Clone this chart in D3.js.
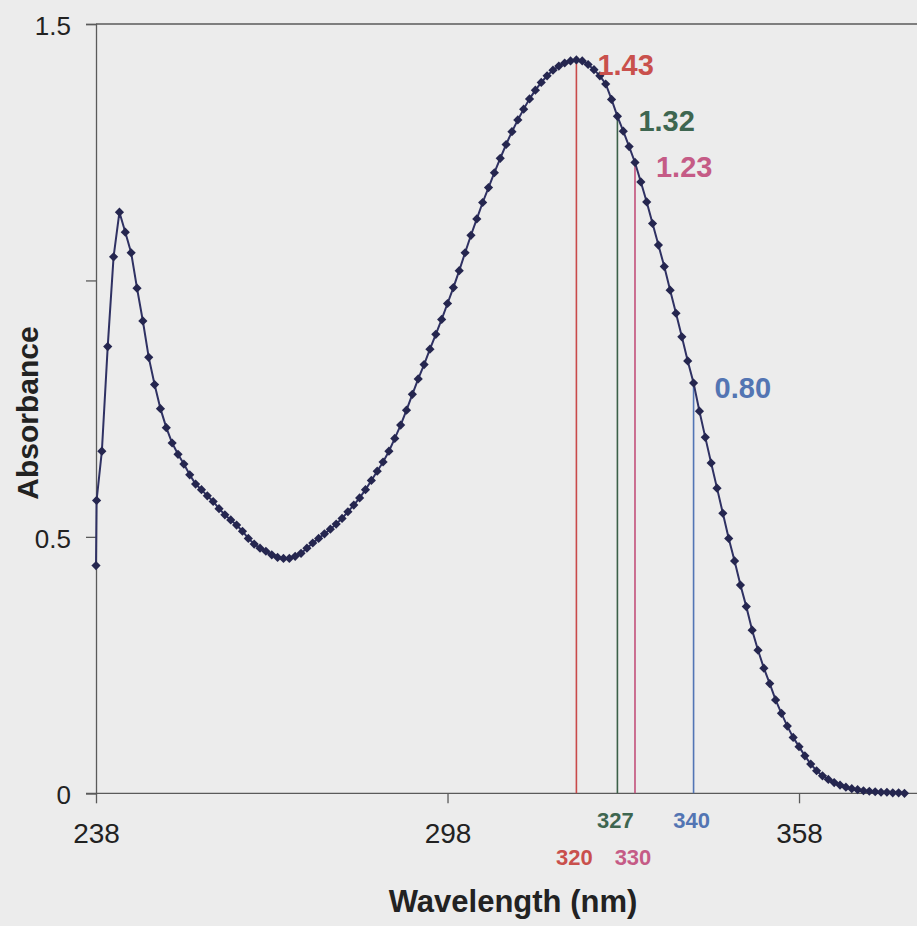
<!DOCTYPE html>
<html>
<head>
<meta charset="utf-8">
<script src="https://cdn.jsdelivr.net/npm/d3@7"></script>
<style>
  html, body { margin: 0; padding: 0; background: #ececec; }
  svg { display: block; }
  text { font-family: "Liberation Sans", Arial, sans-serif; }
</style>
</head>
<body>
<svg id="chart" width="917" height="926"></svg>
<script>
// Absorption spectrum: wavelength (nm) and absorbance readings
const wavelengths = [
  238, 238.1, 239, 240, 241, 242, 243, 244, 245, 246, 247, 248, 249, 250,
  251, 252, 253, 254, 255, 256, 257, 258, 259, 260, 261, 262, 263, 264, 265,
  266, 267, 268, 269, 270, 271, 272, 273, 274, 275, 276, 277, 278, 279, 280,
  281, 282, 283, 284, 285, 286, 287, 288, 289, 290, 291, 292, 293, 294, 295,
  296, 297, 298, 299, 300, 301, 302, 303, 304, 305, 306, 307, 308, 309, 310,
  311, 312, 313, 314, 315, 316, 317, 318, 319, 320, 321, 322, 323, 324, 325,
  326, 327, 328, 329, 330, 331, 332, 333, 334, 335, 336, 337, 338, 339, 340,
  341, 342, 343, 344, 345, 346, 347, 348, 349, 350, 351, 352, 353, 354, 355,
  356, 357, 358, 359, 360, 361, 362, 363, 364, 365, 366, 367, 368, 369, 370,
  371, 372, 373, 374, 375, 376
];
const absorbance = [
  0.444, 0.571, 0.667, 0.871, 1.046, 1.133, 1.094, 1.054, 0.985, 0.921, 0.850, 0.797, 0.750, 0.713,
  0.683, 0.661, 0.642, 0.621, 0.603, 0.592, 0.580, 0.569, 0.555, 0.543, 0.533, 0.523, 0.511, 0.497, 0.486,
  0.478, 0.472, 0.465, 0.460, 0.458, 0.458, 0.462, 0.468, 0.478, 0.488, 0.497, 0.506, 0.515, 0.525, 0.536,
  0.549, 0.562, 0.576, 0.592, 0.610, 0.628, 0.646, 0.667, 0.692, 0.718, 0.747, 0.778, 0.808, 0.836, 0.866,
  0.895, 0.924, 0.955, 0.986, 1.019, 1.054, 1.088, 1.120, 1.152, 1.181, 1.210, 1.238, 1.265, 1.290, 1.313,
  1.334, 1.354, 1.371, 1.386, 1.399, 1.410, 1.418, 1.424, 1.428, 1.430, 1.428, 1.421, 1.411, 1.399, 1.383,
  1.353, 1.320, 1.291, 1.261, 1.230, 1.192, 1.153, 1.111, 1.069, 1.027, 0.981, 0.936, 0.890, 0.843, 0.800,
  0.745, 0.694, 0.644, 0.595, 0.546, 0.497, 0.453, 0.406, 0.364, 0.318, 0.279, 0.244, 0.214, 0.182, 0.156,
  0.131, 0.109, 0.091, 0.073, 0.057, 0.044, 0.034, 0.027, 0.021, 0.016, 0.012, 0.009, 0.007, 0.005, 0.004,
  0.003, 0.002, 0.002, 0.001, 0.001, 0.000
];

// Axis ticks
const xTicks = [238, 298, 358];
const yTicks = [0, 0.5, 1, 1.5];
const yTickLabels = ["0", "0.5", "", "1.5"];

// Marked wavelengths and the absorbance read at each
const markWavelengths = [320, 327, 330, 340];
const markValues = [1.43, 1.32, 1.23, 0.80];
const markLabelRow = [1, 0, 1, 0];

// Styles
const markLineColors = ["#c94a4a", "#3b6048", "#c2507a", "#5275b5"];
const markTextColors = ["#c9504c", "#3e6650", "#c55b86", "#5375b3"];
const curveColor = "#2f3163";
const markerColor = "#25264f";
const axisColor = "#5a5a5a";

const svg = d3.select("#chart");

const x = d3.scaleLinear().domain([238, 378]).range([96, 916.2]);
const y = d3.scaleLinear().domain([0, 1.5]).range([793.3, 24]);

// Frame: top border and axes
svg.append("line")
  .attr("x1", 96).attr("x2", 917).attr("y1", y(1.5)).attr("y2", y(1.5))
  .attr("stroke", axisColor).attr("stroke-width", 1.3);

const yAxis = d3.axisLeft(y).tickValues(yTicks)
  .tickFormat((d, i) => yTickLabels[i]).tickSize(10).tickPadding(15);
const gy = svg.append("g").attr("transform", `translate(${x(238)},0)`).call(yAxis);
gy.select(".domain").attr("stroke", axisColor).attr("stroke-width", 1.3);
gy.selectAll(".tick line").attr("stroke", axisColor).attr("stroke-width", 1.3);
gy.selectAll(".tick text").attr("font-size", 26).attr("fill", "#222")
  .attr("font-family", "'Liberation Sans', Arial, sans-serif").attr("dy", "0.4em");

const xAxis = d3.axisBottom(x).tickValues(xTicks).tickFormat(d3.format("d"))
  .tickSize(10).tickPadding(20);
const gx = svg.append("g").attr("transform", `translate(0,${y(0)})`).call(xAxis);
gx.select(".domain").attr("stroke", axisColor).attr("stroke-width", 1.3)
  .attr("d", `M${x(238) - 10},0H917`);
gx.selectAll(".tick line").attr("stroke", axisColor).attr("stroke-width", 1.3);
gx.selectAll(".tick text").attr("font-size", 28).attr("fill", "#222")
  .attr("font-family", "'Liberation Sans', Arial, sans-serif");

// Vertical marker lines from the axis up to the curve
markWavelengths.forEach((nm, i) => {
  svg.append("line")
    .attr("x1", x(nm)).attr("x2", x(nm))
    .attr("y1", y(0)).attr("y2", y(markValues[i]))
    .attr("stroke", markLineColors[i]).attr("stroke-width", 1.6);
});

// Spectrum line with diamond markers
const pts = wavelengths.map((w, i) => [w, absorbance[i]]);
svg.append("path")
  .datum(pts)
  .attr("fill", "none")
  .attr("stroke", curveColor)
  .attr("stroke-width", 2)
  .attr("d", d3.line().x(d => x(d[0])).y(d => y(d[1])));

const r = 4.6;
svg.append("g").selectAll("path")
  .data(pts)
  .join("path")
  .attr("transform", d => `translate(${x(d[0])},${y(d[1])})`)
  .attr("d", `M0,${-r}L${r},0L0,${r}L${-r},0Z`)
  .attr("fill", markerColor);

// Value labels beside the marked points
markWavelengths.forEach((nm, i) => {
  svg.append("text")
    .attr("x", x(nm) + 21).attr("y", y(markValues[i]) + 15)
    .attr("font-size", 29).attr("font-weight", "bold")
    .attr("fill", markTextColors[i])
    .text(markValues[i].toFixed(2));
});

// Wavelength labels under the axis
markWavelengths.forEach((nm, i) => {
  svg.append("text")
    .attr("x", x(nm) - 2).attr("y", markLabelRow[i] ? 865 : 828)
    .attr("text-anchor", "middle")
    .attr("font-size", 22).attr("font-weight", "bold")
    .attr("fill", markTextColors[i])
    .text(nm);
});

// Axis titles
svg.append("text")
  .attr("x", 513).attr("y", 912)
  .attr("text-anchor", "middle")
  .attr("font-size", 31).attr("font-weight", "bold").attr("fill", "#222")
  .text("Wavelength (nm)");

svg.append("text")
  .attr("transform", "translate(38,413) rotate(-90)")
  .attr("text-anchor", "middle")
  .attr("font-size", 30).attr("font-weight", "bold").attr("fill", "#222")
  .text("Absorbance");
</script>
</body>
</html>
